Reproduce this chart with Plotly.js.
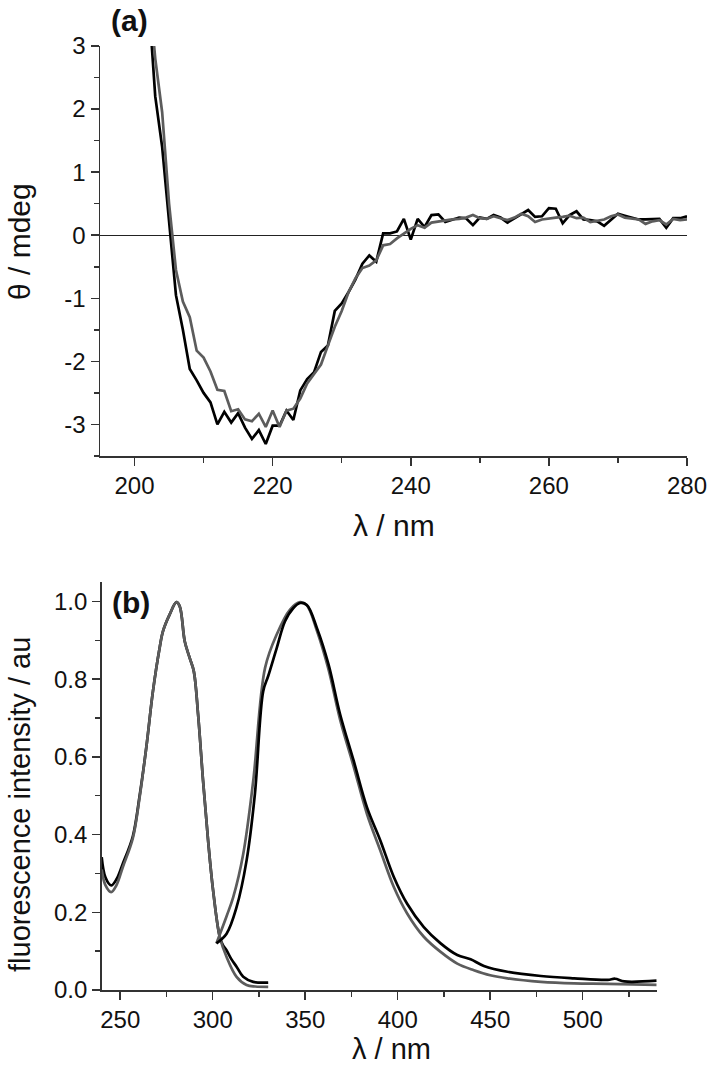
<!DOCTYPE html>
<html>
<head>
<meta charset="utf-8">
<script src="https://cdn.plot.ly/plotly-3.0.1.min.js"></script>
<style>
  html, body { margin: 0; padding: 0; background: #fff; }
  #chart { width: 709px; height: 1069px; }
</style>
</head>
<body>
<div id="chart"></div>
<script>
// (a) CD spectra, 1 nm steps
const cdWavelength = [202, 203, 204, 205, 206, 207, 208, 209, 210, 211, 212, 213, 214, 215, 216, 217, 218, 219, 220,
  221, 222, 223, 224, 225, 226, 227, 228, 229, 230, 231, 232, 233, 234, 235, 236, 237, 238, 239, 240,
  241, 242, 243, 244, 245, 246, 247, 248, 249, 250, 251, 252, 253, 254, 255, 256, 257, 258, 259, 260,
  261, 262, 263, 264, 265, 266, 267, 268, 269, 270, 271, 272, 273, 274, 275, 276, 277, 278, 279, 280];
const cdBlack = [3.8, 2.2, 1.4, 0.25, -0.95, -1.5, -2.12, -2.3, -2.5, -2.65, -3.0, -2.8, -2.97, -2.82, -3.05, -3.23, -3.09, -3.31, -3.02,
  -3.02, -2.78, -2.93, -2.46, -2.28, -2.17, -1.85, -1.75, -1.2, -1.08, -0.9, -0.7, -0.45, -0.32, -0.42, 0.03, 0.03, 0.06, 0.26, -0.07,
  0.26, 0.13, 0.32, 0.33, 0.21, 0.25, 0.28, 0.27, 0.16, 0.28, 0.26, 0.32, 0.28, 0.2, 0.27, 0.34, 0.4, 0.29, 0.3, 0.43,
  0.42, 0.19, 0.32, 0.38, 0.25, 0.24, 0.22, 0.15, 0.25, 0.34, 0.31, 0.28, 0.25, 0.25, 0.25, 0.26, 0.12, 0.27, 0.27, 0.3];
const cdGray = [4.0, 2.8, 1.95, 0.5, -0.55, -1.05, -1.3, -1.83, -1.94, -2.16, -2.45, -2.47, -2.79, -2.76, -2.92, -2.95, -2.83, -3.04, -2.78,
  -3.04, -2.78, -2.75, -2.59, -2.35, -2.2, -2.05, -1.75, -1.45, -1.2, -0.9, -0.68, -0.52, -0.48, -0.4, -0.16, -0.14, -0.05, 0.03, 0.1,
  0.16, 0.12, 0.2, 0.22, 0.24, 0.25, 0.26, 0.28, 0.32, 0.27, 0.26, 0.3, 0.27, 0.24, 0.28, 0.34, 0.3, 0.21, 0.25, 0.27,
  0.28, 0.29, 0.31, 0.27, 0.28, 0.21, 0.23, 0.25, 0.3, 0.33, 0.28, 0.26, 0.25, 0.18, 0.22, 0.24, 0.17, 0.26, 0.24, 0.25];
const cdTicks = [-3, -2, -1, 0, 1, 2, 3];
const cdTickText = ['-3', '-2', '-1', '0', '1', '2', '3'];

// (b) excitation spectra
const excBlackX = [240, 242, 245.1, 248, 251.4, 256.8, 260.5, 264.1, 267.7, 271.3, 273.1, 276.7, 280.4, 282.2, 284.9,
  287.6, 289.8, 292.1, 294.8, 297.5, 300.2, 303.8, 305.6, 307.4, 310, 312.9, 316.5, 321.9, 330];
const excBlackY = [0.342, 0.29, 0.269, 0.285, 0.325, 0.395, 0.5, 0.624, 0.769, 0.88, 0.923, 0.966, 0.998, 0.987, 0.897,
  0.854, 0.82, 0.709, 0.538, 0.385, 0.257, 0.137, 0.115, 0.103, 0.08, 0.06, 0.034, 0.021, 0.019];
const excGrayX = [240, 242, 245.1, 248, 251.4, 256.8, 260.5, 264.1, 267.7, 271.3, 273.1, 276.7, 280.4, 282.2, 284.9,
  287.6, 289.8, 292.1, 294.8, 297.5, 300.2, 303.8, 307.5, 312.9, 318.3, 323, 330];
const excGrayY = [0.31, 0.27, 0.252, 0.27, 0.316, 0.39, 0.496, 0.624, 0.769, 0.88, 0.923, 0.966, 0.998, 0.987, 0.897,
  0.854, 0.82, 0.709, 0.538, 0.385, 0.257, 0.137, 0.085, 0.034, 0.013, 0.009, 0.008];

// (b) emission spectra
const emBlackX = [302, 307.5, 312.9, 318.3, 322.8, 327.3, 330, 334.6, 339.1, 343.6, 347.2, 350.9, 356.3, 362.6, 368.9,
  376.2, 383.4, 390.6, 397.9, 405.1, 414.1, 423.2, 432.2, 439.4, 446.6, 459.3, 477.4, 495.4, 513.5, 517.5, 522.5, 540];
const emBlackY = [0.12, 0.145, 0.213, 0.333, 0.504, 0.769, 0.808, 0.88, 0.949, 0.983, 0.996, 0.991, 0.932, 0.838, 0.709,
  0.59, 0.47, 0.385, 0.291, 0.222, 0.162, 0.12, 0.09, 0.079, 0.062, 0.047, 0.036, 0.03, 0.026, 0.029, 0.022, 0.024];
const emGrayX = [302, 307.5, 311.1, 316.5, 321.9, 328.3, 334.6, 341.8, 347.2, 350.9, 356.3, 362.6, 368.9, 376.2, 383.4,
  390.6, 397.9, 405.1, 414.1, 423.2, 432.2, 441.2, 450, 459.3, 477.4, 495.4, 513.5, 540];
const emGrayY = [0.12, 0.19, 0.239, 0.35, 0.538, 0.829, 0.915, 0.979, 0.998, 0.99, 0.925, 0.825, 0.695, 0.575, 0.453,
  0.359, 0.265, 0.197, 0.137, 0.098, 0.068, 0.051, 0.038, 0.03, 0.021, 0.017, 0.016, 0.013];

const BLACK = '#000000';
const GRAY = '#5c5c5c';
const FONT = 'Liberation Sans, Arial, sans-serif';

const line = (x, y, color, xa, ya, shape) => ({
  x, y, xaxis: xa, yaxis: ya, type: 'scatter', mode: 'lines',
  line: { color, width: 2.7, shape: shape || 'linear' },
  hoverinfo: 'skip'
});

const data = [
  line(cdWavelength, cdBlack, BLACK, 'x', 'y'),
  line(cdWavelength, cdGray, GRAY, 'x', 'y'),
  line(excBlackX, excBlackY, BLACK, 'x2', 'y2', 'spline'),
  line(excGrayX, excGrayY, GRAY, 'x2', 'y2', 'spline'),
  line(emGrayX, emGrayY, GRAY, 'x2', 'y2', 'spline'),
  line(emBlackX, emBlackY, BLACK, 'x2', 'y2', 'spline')
];

const axisBase = {
  showgrid: false,
  showline: true,
  linecolor: '#333',
  linewidth: 1.5,
  ticks: 'outside',
  ticklen: 8,
  tickwidth: 1.5,
  tickcolor: '#333',
  tickfont: { family: FONT, size: 24, color: '#111' },
  zeroline: false,
  fixedrange: true
};
const minor = dtick => ({ dtick, ticks: 'outside', ticklen: 5, tickwidth: 1.5, tickcolor: '#333' });

const W = 709, H = 1069;
const note = (text, px, py, size, angle) => ({
  text, xref: 'paper', yref: 'paper', x: px / W, y: 1 - py / H,
  xanchor: 'center', yanchor: 'middle', showarrow: false, textangle: angle || 0,
  font: { family: FONT, size, color: '#111' }
});

const layout = {
  width: W, height: H,
  margin: { l: 0, r: 0, t: 0, b: 0 },
  paper_bgcolor: '#fff',
  plot_bgcolor: '#fff',
  showlegend: false,
  xaxis: Object.assign({}, axisBase, {
    domain: [100 / W, 687 / W], anchor: 'y',
    range: [195, 280], tick0: 200, dtick: 20, minor: minor(10)
  }),
  yaxis: Object.assign({}, axisBase, {
    domain: [1 - 456 / H, 1 - 46 / H], anchor: 'x',
    range: [-3.5, 3], tickmode: 'array', tickvals: cdTicks, ticktext: cdTickText,
    minor: minor(0.5),
    zeroline: true, zerolinecolor: '#222', zerolinewidth: 1.3
  }),
  xaxis2: Object.assign({}, axisBase, {
    domain: [101.7 / W, 656.7 / W], anchor: 'y2',
    range: [240, 540], tick0: 250, dtick: 50, minor: minor(25)
  }),
  yaxis2: Object.assign({}, axisBase, {
    domain: [1 - 990 / H, 1 - 582 / H], anchor: 'x2',
    range: [0, 1.05], tick0: 0, dtick: 0.2, tickformat: '.1f', minor: minor(0.1)
  }),
  annotations: [
    note('<b>(a)</b>', 129, 21, 30),
    note('<b>(b)</b>', 131, 602, 30),
    note('λ / nm', 394, 525, 30),
    note('λ / nm', 391, 1049, 29),
    note('θ / mdeg', 20, 242, 30, -90),
    note('fluorescence intensity / au', 20, 805, 29, -90)
  ]
};

Plotly.newPlot('chart', data, layout, { displayModeBar: false, staticPlot: true });
</script>
</body>
</html>
